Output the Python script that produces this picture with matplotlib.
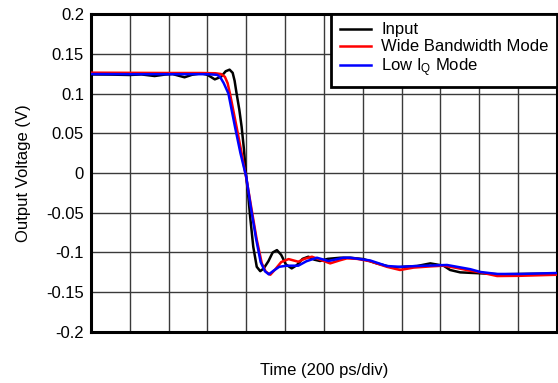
import matplotlib
matplotlib.use("Agg")
import matplotlib.pyplot as plt
import numpy as np

plt.rcParams["font.family"] = ["Liberation Sans", "DejaVu Sans"]
plt.rcParams["mathtext.fontset"] = "custom"
plt.rcParams["mathtext.rm"] = "Liberation Sans"
plt.rcParams["mathtext.it"] = "Liberation Sans:italic"

# Time in divisions (200 ps/div), voltage in volts
input_t = [0.0, 0.5, 1.0, 1.3, 1.64, 1.9, 2.1, 2.41, 2.6, 2.84, 3.0, 3.19, 3.35,
           3.47, 3.57, 3.65, 3.70, 3.75, 3.82, 3.88, 3.94, 3.99, 4.05, 4.10, 4.18,
           4.27, 4.36, 4.45, 4.57, 4.68, 4.79, 4.90, 5.02, 5.17, 5.30, 5.45, 5.60,
           5.75, 5.90, 6.10, 6.42, 6.68, 7.02, 7.36, 7.79, 8.05, 8.40, 8.74, 9.08,
           9.25, 9.51, 10.03, 10.54, 11.06, 12.0]
input_v = [0.1240, 0.1238, 0.1233, 0.1240, 0.1220, 0.1238, 0.1245, 0.1204, 0.1235,
           0.1254, 0.1235, 0.1178, 0.1210, 0.1280, 0.1300, 0.1260, 0.1160, 0.1002,
           0.0800, 0.0583, 0.0300, 0.0000, -0.0280, -0.0550, -0.0927, -0.1180,
           -0.1235, -0.1200, -0.1110, -0.1000, -0.0970, -0.1030, -0.1150, -0.1200,
           -0.1160, -0.1080, -0.1053, -0.1090, -0.1107, -0.1080, -0.1066, -0.1066,
           -0.1083, -0.1137, -0.1190, -0.1180, -0.1170, -0.1137, -0.1166, -0.1220,
           -0.1250, -0.1262, -0.1275, -0.1270, -0.1265]

wide_t = [0.0, 1.0, 2.0, 2.8, 3.2, 3.35, 3.45, 3.52, 3.58, 3.75, 3.88, 4.01, 4.14,
          4.27, 4.40, 4.50, 4.62, 4.75, 4.90, 5.09, 5.34, 5.50, 5.69, 5.90, 6.16,
          6.40, 6.59, 6.85, 7.19, 7.62, 7.96, 8.31, 8.74, 9.08, 9.43, 9.77, 10.03,
          10.46, 11.06, 12.0]
wide_v = [0.1262, 0.1260, 0.1258, 0.1258, 0.1255, 0.1245, 0.1210, 0.1130, 0.1000,
          0.0580, 0.0250, -0.0090, -0.0466, -0.0840, -0.1136, -0.1240, -0.1280,
          -0.1210, -0.1120, -0.1083, -0.1116, -0.1080, -0.1053, -0.1090, -0.1137,
          -0.1100, -0.1074, -0.1080, -0.1110, -0.1180, -0.1220, -0.1190, -0.1175,
          -0.1166, -0.1195, -0.1230, -0.1250, -0.1296, -0.1293, -0.1280]

lowiq_t = [0.0, 1.0, 2.0, 3.0, 3.25, 3.33, 3.42, 3.54, 3.71, 3.85, 4.00, 4.12, 4.25,
           4.37, 4.48, 4.58, 4.70, 4.85, 5.04, 5.34, 5.55, 5.82, 6.12, 6.50, 6.68,
           7.19, 7.62, 7.96, 8.40, 8.83, 9.17, 9.51, 9.77, 10.03, 10.46, 11.06, 12.0]
lowiq_v = [0.1245, 0.1243, 0.1243, 0.1243, 0.1235, 0.1205, 0.1130, 0.1000, 0.0580,
           0.0250, -0.0050, -0.0440, -0.0820, -0.1120, -0.1235, -0.1275, -0.1230,
           -0.1180, -0.1166, -0.1166, -0.1110, -0.1066, -0.1107, -0.1066, -0.1066,
           -0.1100, -0.1170, -0.1180, -0.1170, -0.1163, -0.1157, -0.1187, -0.1210,
           -0.1245, -0.1270, -0.1270, -0.1258]

y_ticks = [0.2, 0.15, 0.1, 0.05, 0, -0.05, -0.1, -0.15, -0.2]
y_tick_labels = ["0.2", "0.15", "0.1", "0.05", "0", "-0.05", "-0.1", "-0.15", "-0.2"]
n_div = 12
fs = 12

fig = plt.figure(figsize=(5.58, 3.83), dpi=100)
ax = fig.add_axes([0.163, 0.1332, 0.835, 0.8302])

ax.plot(input_t, input_v, color="black", lw=1.8, label="Input", zorder=3)
ax.plot(wide_t, wide_v, color="#ff0000", lw=1.8, label="Wide Bandwidth Mode", zorder=4)
ax.plot(lowiq_t, lowiq_v, color="#0000ff", lw=1.8, label=r"Low I$_{\mathrm{Q}}$ Mode", zorder=5)

ax.set_xlim(0, n_div)
ax.set_ylim(-0.2, 0.2)
ax.set_xticks(np.arange(0, n_div + 1))
ax.set_xticklabels([])
ax.set_yticks(y_ticks)
ax.set_yticklabels(y_tick_labels)
ax.tick_params(axis="both", length=0, labelsize=fs, pad=5)
ax.grid(True, color="#3a3a3a", lw=1.0)
ax.set_axisbelow(True)
for s in ax.spines.values():
    s.set_linewidth(2.2)
    s.set_color("black")

ax.set_ylabel("Output Voltage (V)", fontsize=fs)
ax.yaxis.set_label_coords(-0.128, 0.5)
ax.set_xlabel("Time (200 ps/div)", fontsize=fs)
ax.xaxis.set_label_coords(0.5, -0.097)

leg = ax.legend(loc="upper right", bbox_to_anchor=(1.0, 1.0), borderaxespad=0,
                fontsize=fs, frameon=True, fancybox=False, handlelength=1.9,
                handletextpad=0.6, labelspacing=0.12, borderpad=0.5)
leg.get_frame().set_edgecolor("black")
leg.get_frame().set_linewidth(2.0)
leg.get_frame().set_alpha(1.0)

fig.savefig("out.png", dpi=100)
